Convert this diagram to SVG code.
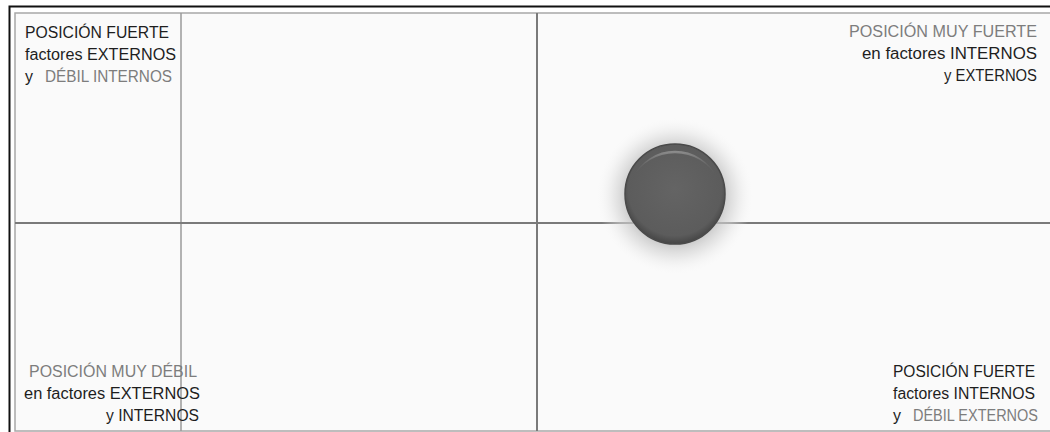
<svg xmlns="http://www.w3.org/2000/svg" width="1050" height="432" viewBox="0 0 1050 432">
  <style>
    .t { font-family: "Liberation Sans", Arial, sans-serif; font-size: 16px; }
    .k { fill: #1e1e1e; }
    .g { fill: #7d7d7d; }
    .axis { stroke: #7a7a7a; stroke-width: 2; fill: none; }
    .axis-light { stroke: #9a9a9a; stroke-width: 1.5; fill: none; }
  </style>
  <defs>
    <radialGradient id="glow" cx="0.5" cy="0.5" r="0.5">
      <stop offset="0.55" stop-color="#b5b5b5" stop-opacity="0.9"/>
      <stop offset="0.78" stop-color="#d8d8d8" stop-opacity="0.55"/>
      <stop offset="1" stop-color="#f5f5f5" stop-opacity="0"/>
    </radialGradient>
    <radialGradient id="ball" cx="0.5" cy="0.45" r="0.55">
      <stop offset="0" stop-color="#646464"/>
      <stop offset="0.85" stop-color="#5c5c5c"/>
      <stop offset="1" stop-color="#464646"/>
    </radialGradient>
    <linearGradient id="hl" x1="0" y1="0" x2="0" y2="1">
      <stop offset="0" stop-color="#9a9a9a"/>
      <stop offset="1" stop-color="#5e5e5e" stop-opacity="0"/>
    </linearGradient>
  </defs>

  <!-- background & frame -->
  <rect x="0" y="0" width="1050" height="432" fill="#ffffff"/>
  <rect x="15" y="13" width="1040" height="418" fill="#fafafa" stroke="#a8a8a8" stroke-width="1.5"/>
  <path d="M9.5,432 V6.5 H1050" stroke="#111" stroke-width="2" fill="none"/>

  <g id="connectors">
    <line class="axis-light" x1="181" y1="13" x2="181" y2="431"/>
    <line class="axis" x1="537" y1="13" x2="537" y2="431"/>
    <line class="axis" x1="15" y1="223" x2="1050" y2="223"/>
  </g>

  <g id="node-top-left">
    <text class="t k" x="25" y="38" textLength="144" lengthAdjust="spacingAndGlyphs">POSICIÓN FUERTE</text>
    <text class="t k" x="25" y="60" textLength="151" lengthAdjust="spacingAndGlyphs">factores EXTERNOS</text>
    <text class="t k" x="25" y="82">y</text>
    <text class="t g" x="45" y="82" textLength="127" lengthAdjust="spacingAndGlyphs">DÉBIL INTERNOS</text>
  </g>

  <g id="node-top-right">
    <text class="t g" x="849" y="37" textLength="188" lengthAdjust="spacingAndGlyphs">POSICIÓN MUY FUERTE</text>
    <text class="t k" x="862" y="59" textLength="175" lengthAdjust="spacingAndGlyphs">en factores INTERNOS</text>
    <text class="t k" x="944" y="81" textLength="93" lengthAdjust="spacingAndGlyphs">y EXTERNOS</text>
  </g>

  <g id="node-bottom-left">
    <text class="t g" x="29" y="377" textLength="168" lengthAdjust="spacingAndGlyphs">POSICIÓN MUY DÉBIL</text>
    <text class="t k" x="24" y="399" textLength="176" lengthAdjust="spacingAndGlyphs">en factores EXTERNOS</text>
    <text class="t k" x="106" y="421" textLength="93" lengthAdjust="spacingAndGlyphs">y INTERNOS</text>
  </g>

  <g id="node-bottom-right">
    <text class="t k" x="893" y="377" textLength="142" lengthAdjust="spacingAndGlyphs">POSICIÓN FUERTE</text>
    <text class="t k" x="893" y="399" textLength="142" lengthAdjust="spacingAndGlyphs">factores INTERNOS</text>
    <text class="t k" x="893" y="421">y</text>
    <text class="t g" x="913" y="421" textLength="125" lengthAdjust="spacingAndGlyphs">DÉBIL EXTERNOS</text>
  </g>

  <g id="node-bubble">
    <circle cx="675" cy="196" r="78" fill="url(#glow)"/>
    <circle cx="675" cy="194" r="50" fill="url(#ball)" stroke="#4a4a4a" stroke-width="1.5"/>
    <path d="M633,178 A46,46 0 0 1 717,178 A46,42 0 0 0 633,178 Z" fill="url(#hl)" opacity="0.8"/>
  </g>
</svg>
